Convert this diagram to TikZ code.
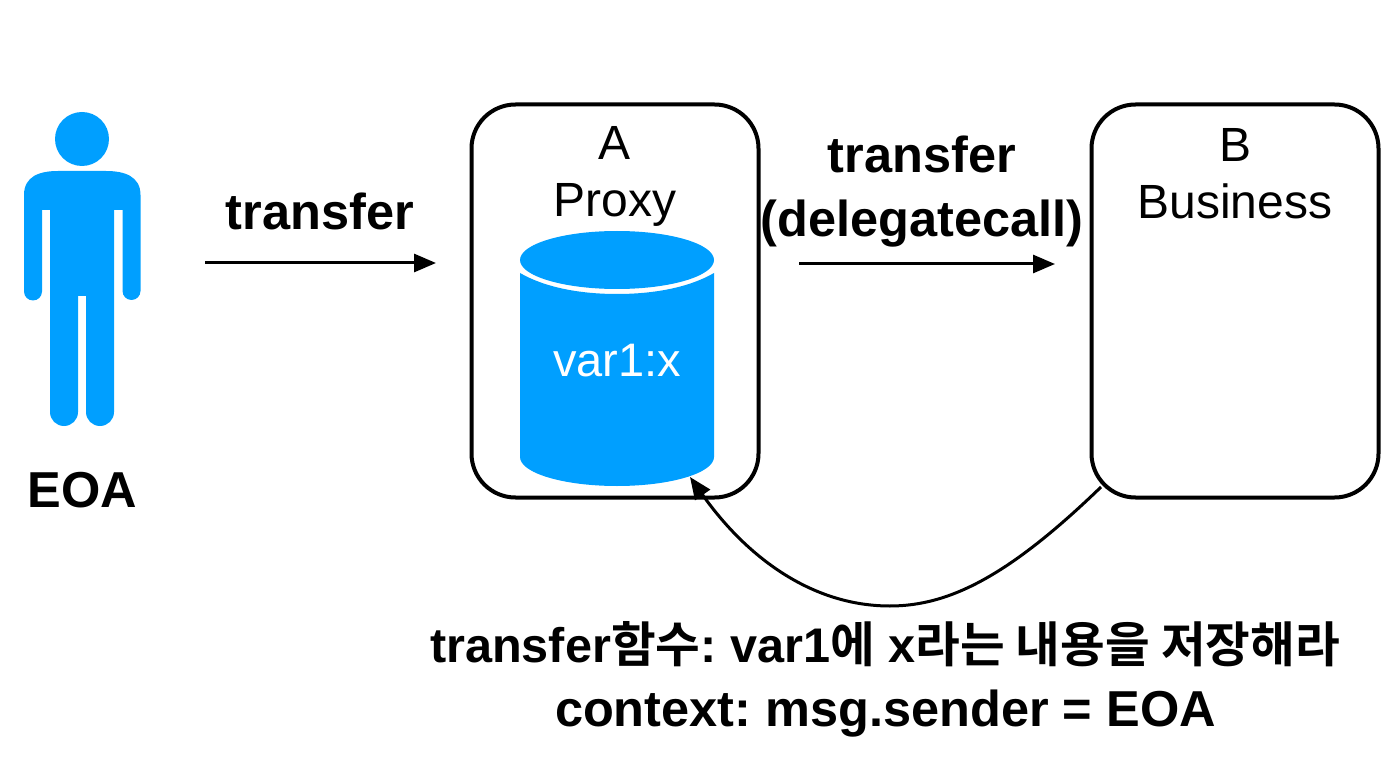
\documentclass[tikz,border=0pt]{standalone}
\usepackage{xcolor}
\usepackage{fontspec}
\setmainfont{Liberation Sans}
\newfontfamily\krfont{Noto Sans CJK KR}[BoldFont={Noto Sans CJK KR Bold}]
\usetikzlibrary{arrows.meta,positioning}
\definecolor{EoaBlue}{HTML}{009FFF}
\definecolor{InkBlack}{HTML}{000000}
\newcommand{\kr}[1]{{\krfont\bfseries #1}}
\tikzset{
    contractbox/.style={draw=InkBlack,line width=4pt,rounded corners=44pt,fill=white,
          minimum width=287pt,minimum height=393pt,inner sep=0pt},
    boxlabel/.style={font=\fontsize{48}{57}\selectfont,align=center,text=InkBlack},
    boldlabel/.style={font=\fontsize{50.5}{64}\selectfont\bfseries\frenchspacing,align=center,text=InkBlack},
    callarrow/.style={line width=3pt,InkBlack,-{Triangle[length=22pt,width=18pt]}}
}
\begin{document}
\begin{tikzpicture}[x=1pt,y=-1pt]
    \useasboundingbox (0,0) rectangle (1400,767);
    % person
    \fill[EoaBlue] (82,139) circle (27);
    \fill[EoaBlue,rounded corners=0pt] (24,195)
        .. controls (24,176) and (40,171) .. (58,171) -- (106,171)
        .. controls (124,171) and (140.5,176) .. (140.5,195)
        -- (140.5,291) arc[start angle=0,end angle=180,radius=9] -- (122.5,210) -- (114,210)
        -- (114,412) arc[start angle=0,end angle=180,radius=14] -- (86,296) -- (78,296)
        -- (78,412) arc[start angle=0,end angle=180,radius=14] -- (50,210) -- (42,210)
        -- (42,291.5) arc[start angle=0,end angle=180,radius=9] -- cycle;
    \node[boldlabel] (eoa) at (82.5,490) {EOA};
    % contracts
    \node[contractbox] (proxy) at (615,301) {};
    \node[contractbox] (business) at (1235,301) {};
    \node[boxlabel] (proxylabel) at (615,176.5) {A\\Proxy};
    \node[boxlabel] (businesslabel) at (1235,174) {B\\Business};
    % storage
    \fill[EoaBlue] (520,273) .. controls (545,287.5) and (580,294) .. (617,294)
        .. controls (654,294) and (689,287.5) .. (714,273) -- (714,457)
        arc[start angle=0,end angle=180,x radius=97,y radius=29] -- cycle;
    \fill[EoaBlue] (617,260) ellipse[x radius=97,y radius=29];
    \node[font=\fontsize{47}{52}\selectfont,text=white] (var) at (617,361) {var1:x};
    \coordinate (storetip) at (690,477);
    % calls
    \node[boldlabel] (calllabel) at (320,211) {transfer};
    \node[boldlabel] (delegatelabel) at (922,192) {transfer\\(delegatecall)};
    \coordinate (callfrom) at (205,263);
    \coordinate (callto) at (436,263);
    \coordinate (delegatefrom) at (799,264);
    \coordinate (delegateto) at (1055,264);
    \draw[callarrow] (callfrom) -- (callto);
    \draw[callarrow] (delegatefrom) -- (delegateto);
    \draw[callarrow] ([shift={(11.5,-12.5)}]business.south west)
        .. controls (1010,575) and (950,606) .. (890,606)
        .. controls (810,606) and (745,555) .. (storetip);
    % note
    \node[boldlabel,font=\fontsize{48.6}{60}\selectfont\bfseries\frenchspacing] (note) at (885,644) {transfer\kr{함수}: var1\kr{에} x\kr{라는 내용을 저장해라}};
    \node[boldlabel] (context) at (885.5,714) {context: msg.sender = EOA};
\end{tikzpicture}
\end{document}
